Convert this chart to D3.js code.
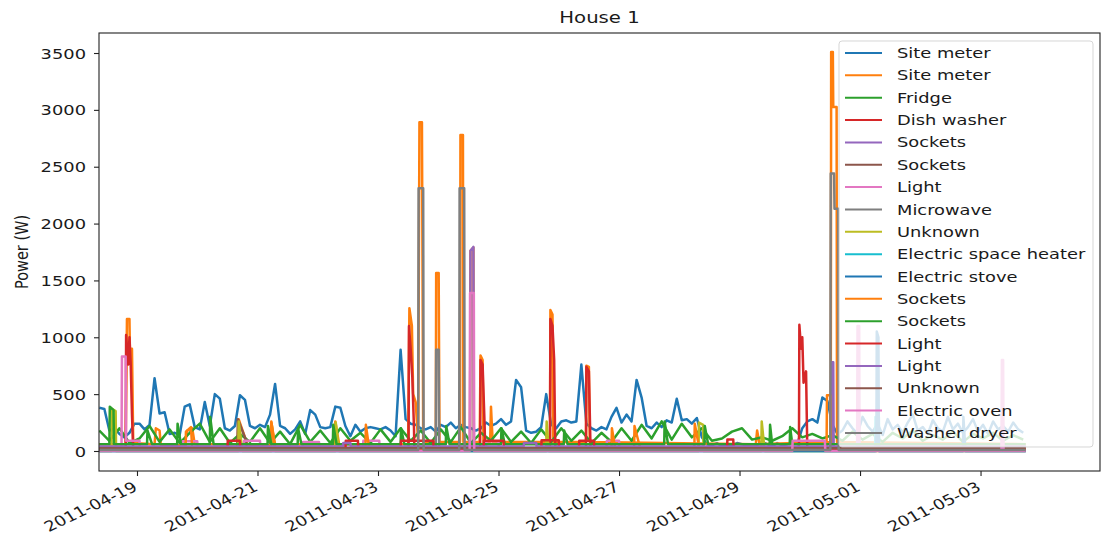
<!DOCTYPE html>
<html>
<head>
<meta charset="utf-8">
<script src="https://cdn.jsdelivr.net/npm/d3@7"></script>
<style>
  body { margin: 0; background: #fff; }
  text { font-family: "DejaVu Sans", sans-serif; fill: #1a1a1a; }
</style>
</head>
<body>
<div id="chart"></div>
<script>
// Figure size and plot box (the source image is stretched horizontally)
const width = 1102;
const height = 539;
const margin = { top: 33, right: 2, bottom: 68, left: 99 };
const fontSize = 14.5;
const sx = 1.23; // horizontal text stretch

// ---- data ----
const legendLabels = [
  "Site meter", "Site meter", "Fridge", "Dish washer", "Sockets", "Sockets",
  "Light", "Microwave", "Unknown", "Electric space heater", "Electric stove",
  "Sockets", "Sockets", "Light", "Light", "Unknown", "Electric oven", "Washer dryer"
];
const colors = [
  "#1f77b4", "#ff7f0e", "#2ca02c", "#d62728", "#9467bd", "#8c564b", "#e377c2",
  "#7f7f7f", "#bcbd22", "#17becf", "#1f77b4", "#ff7f0e", "#2ca02c", "#d62728",
  "#9467bd", "#8c564b", "#e377c2", "#7f7f7f"
];
const xTicks = ["04-19 00:00", "04-21 00:00", "04-23 00:00", "04-25 00:00",
  "04-27 00:00", "04-29 00:00", "05-01 00:00", "05-03 00:00"];
const yTicks = [0, 500, 1000, 1500, 2000, 2500, 3000, 3500];

// Site meter 1, one reading every 2 hours from 04-18 09:00
const siteMeter1Start = "04-18 09:00";
const siteMeter1Step = 2;
const siteMeter1 = [
  380, 370, 180, 200, 150, 120, 160, 240, 240, 190,
  230, 640, 330, 340, 150, 160, 140, 390, 410, 210,
  190, 430, 220, 500, 460, 200, 180, 220, 490, 450,
  220, 200, 230, 210, 320, 590, 220, 200, 150, 190,
  260, 150, 360, 320, 210, 200, 210, 390, 380, 220,
  130, 230, 170, 200, 210, 200, 190, 210, 180, 130,
  890, 280, 240, 230, 200, 190, 210, 170, 230, 210,
  250, 200, 230, 210, 200, 180, 200, 250, 220, 240,
  280, 230, 260, 625, 560, 180, 160, 170, 210, 500,
  230, 200, 260, 270, 250, 260, 760, 240, 200, 180,
  210, 190, 300, 380, 250, 320, 260, 625, 470, 220,
  200, 250, 210, 270, 250, 460, 270, 280, 240, 290,
  120, 60, 50, 70, 40, 60, 50, 70, 60, 40,
  60, 50, 80, 60, 40, 70, 50, 60, 80, 60,
  200, 260, 280, 250, 470, 440, 230, 150, 180, 260,
  200, 150, 300, 220, 170, 240, 140, 280, 190, 230,
  160, 250, 320, 180, 210, 150, 270, 200, 170, 300,
  190, 240, 160, 210, 280, 170, 230, 150, 260, 190,
  220, 170, 250, 190, 160
];

// Fridge, one reading every 4 hours from 04-18 09:00
const fridgeStart = "04-18 09:00";
const fridgeStep = 4;
const fridge = [
  180, 90, 200, 70, 110, 220, 80, 190, 70, 160,
  240, 80, 200, 70, 150, 80, 200, 70, 170, 60,
  230, 80, 180, 70, 200, 90, 160, 70, 190, 80,
  200, 90, 180, 70, 190, 80, 210, 70, 160, 90,
  200, 80, 170, 70, 190, 80, 200, 90, 180, 70,
  160, 80, 200, 90, 230, 110, 260, 100, 240, 120,
  200, 90, 110, 170, 200, 100, 120, 90, 130, 200,
  120, 150, 110, 140, 90, 170, 100, 150, 80, 160,
  110, 180, 90, 140, 100, 170, 80, 150, 110, 160,
  90, 140, 100
];

const siteMeter2 = [
  ["04-18 09:00", 60], ["04-18 19:30", 60], ["04-18 20:00", 1160], ["04-18 21:00", 1160],
  ["04-18 21:10", 900], ["04-18 22:00", 900], ["04-18 22:30", 70],
  ["04-19 07:00", 60], ["04-19 07:30", 200], ["04-19 09:00", 180], ["04-19 09:30", 50],
  ["04-19 19:00", 50], ["04-19 20:00", 180], ["04-19 22:00", 200], ["04-19 23:00", 60],
  ["04-20 16:00", 60], ["04-20 16:30", 280], ["04-20 19:00", 120], ["04-20 20:00", 50],
  ["04-21 05:00", 50], ["04-21 05:30", 250], ["04-21 07:00", 60],
  ["04-22 06:30", 60], ["04-22 07:00", 260], ["04-22 08:30", 60],
  ["04-23 12:00", 60], ["04-23 12:30", 1255], ["04-23 13:30", 1100], ["04-23 14:00", 500],
  ["04-23 15:00", 430], ["04-23 16:00", 80], ["04-23 16:30", 2890], ["04-23 17:30", 2890],
  ["04-23 18:00", 80], ["04-23 23:00", 80], ["04-23 23:10", 1565], ["04-24 00:10", 1565],
  ["04-24 00:30", 80], ["04-24 08:40", 80], ["04-24 08:50", 2780], ["04-24 09:50", 2780],
  ["04-24 10:00", 80], ["04-24 12:40", 80], ["04-24 12:50", 1760], ["04-24 14:00", 1790],
  ["04-24 14:10", 80], ["04-24 16:30", 80], ["04-24 16:50", 840], ["04-24 17:40", 800],
  ["04-24 18:00", 80], ["04-24 20:40", 80], ["04-24 21:00", 390], ["04-24 21:40", 80],
  ["04-25 20:30", 80], ["04-25 20:40", 1240], ["04-25 21:30", 1200], ["04-25 21:50", 80],
  ["04-26 10:50", 80], ["04-26 11:00", 750], ["04-26 12:00", 740], ["04-26 12:20", 80],
  ["04-29 06:30", 60], ["04-29 07:00", 180], ["04-29 08:00", 60],
  ["04-30 12:20", 80], ["04-30 12:30", 3510], ["04-30 13:10", 3510], ["04-30 13:20", 3025],
  ["04-30 14:40", 3025], ["04-30 14:50", 80], ["05-03 18:00", 60]
];
const dishWasher = [
  ["04-18 09:00", 5], ["04-18 19:30", 5], ["04-18 19:40", 1020], ["04-18 20:30", 760],
  ["04-18 21:00", 1000], ["04-18 21:30", 760], ["04-18 22:00", 320], ["04-18 22:30", 5],
  ["04-23 12:10", 5], ["04-23 12:20", 1100], ["04-23 13:00", 900], ["04-23 13:40", 650],
  ["04-23 14:20", 200], ["04-23 14:30", 5],
  ["04-24 16:40", 5], ["04-24 16:50", 800], ["04-24 17:40", 760], ["04-24 18:30", 200], ["04-24 18:40", 5],
  ["04-25 20:30", 5], ["04-25 20:40", 1160], ["04-25 21:30", 1100], ["04-25 22:10", 800],
  ["04-25 22:30", 200], ["04-25 22:40", 5],
  ["04-26 10:50", 5], ["04-26 11:00", 740], ["04-26 12:00", 700], ["04-26 12:40", 5],
  ["04-29 23:40", 5], ["04-29 23:50", 1110], ["04-30 00:30", 900], ["04-30 01:00", 1000],
  ["04-30 01:30", 600], ["04-30 02:30", 700], ["04-30 03:00", 5], ["05-03 18:00", 5]
];
const sockets1 = [
  ["04-18 09:00", 30], ["04-19 12:00", 30], ["04-19 12:10", 60], ["04-19 14:00", 60], ["04-19 14:10", 30],
  ["04-24 12:40", 30], ["04-24 12:50", 1760], ["04-24 14:00", 1795], ["04-24 14:10", 30],
  ["04-30 12:40", 30], ["04-30 12:50", 780], ["04-30 13:20", 780], ["04-30 13:30", 30],
  ["05-03 18:00", 30]
];
const sockets2 = [
  ["04-18 09:00", 20], ["04-20 16:00", 20], ["04-20 16:10", 280], ["04-20 19:30", 90],
  ["04-20 19:40", 20], ["05-03 18:00", 20]
];
const light1 = [
  ["04-18 09:00", 10], ["04-18 17:50", 10], ["04-18 18:00", 830], ["04-18 19:30", 830],
  ["04-18 19:40", 90], ["04-19 01:00", 90], ["04-19 01:10", 10],
  ["04-19 18:00", 10], ["04-19 18:10", 85], ["04-20 00:00", 85], ["04-20 00:10", 10],
  ["04-20 18:30", 10], ["04-20 18:40", 90], ["04-21 01:00", 90], ["04-21 01:10", 10],
  ["04-21 18:00", 10], ["04-21 18:10", 80], ["04-22 00:30", 80], ["04-22 00:40", 10],
  ["04-22 18:00", 10], ["04-22 18:10", 90], ["04-23 00:30", 90], ["04-23 00:40", 10],
  ["04-24 19:00", 10], ["04-24 19:10", 85], ["04-25 00:00", 85], ["04-25 00:10", 10],
  ["04-26 19:00", 10], ["04-26 19:10", 90], ["04-27 00:00", 90], ["04-27 00:10", 10],
  ["04-30 22:50", 10], ["04-30 23:00", 1100], ["04-30 23:40", 1100], ["04-30 23:50", 10],
  ["05-03 18:00", 10]
];
const microwave = [
  ["04-18 09:00", 5], ["04-23 23:00", 5], ["04-23 23:10", 890], ["04-24 00:10", 890],
  ["04-24 00:20", 5], ["05-03 18:00", 5]
];
const unknown1 = [
  ["04-18 09:00", 0], ["04-18 13:50", 0], ["04-18 14:00", 370], ["04-18 15:30", 350], ["04-18 15:40", 0],
  ["04-20 16:20", 0], ["04-20 16:30", 260], ["04-20 18:00", 0],
  ["04-21 05:30", 0], ["04-21 05:40", 230], ["04-21 07:00", 0],
  ["04-22 07:00", 0], ["04-22 07:10", 250], ["04-22 08:30", 0],
  ["04-25 19:00", 0], ["04-25 19:10", 260], ["04-25 20:00", 0],
  ["04-28 07:40", 0], ["04-28 07:50", 250], ["04-28 09:30", 230], ["04-28 09:40", 0],
  ["04-29 08:40", 0], ["04-29 08:50", 260], ["04-29 10:00", 0], ["05-03 18:00", 0]
];
const spaceHeater = [
  ["04-18 09:00", 0], ["05-01 06:00", 0], ["05-01 06:10", 300], ["05-01 07:30", 300],
  ["05-01 07:40", 0], ["05-03 18:00", 0]
];
const stove = [
  ["04-18 09:00", 0], ["05-01 06:30", 0], ["05-01 06:40", 1050], ["05-01 07:20", 1000],
  ["05-01 07:30", 0], ["05-02 17:00", 0], ["05-02 17:10", 300], ["05-02 18:00", 0], ["05-03 18:00", 0]
];
const sockets3 = [
  ["04-18 09:00", 20], ["04-19 19:20", 20], ["04-19 19:30", 170], ["04-19 21:30", 210], ["04-19 22:00", 20],
  ["04-21 05:20", 20], ["04-21 05:30", 260], ["04-21 07:00", 20],
  ["04-22 19:00", 20], ["04-22 19:10", 230], ["04-22 20:30", 20],
  ["04-26 21:00", 20], ["04-26 21:10", 200], ["04-26 22:30", 20],
  ["04-27 06:00", 20], ["04-27 06:10", 220], ["04-27 08:30", 20],
  ["04-28 06:00", 20], ["04-28 06:10", 240], ["04-28 08:00", 20],
  ["04-30 10:40", 20], ["04-30 10:50", 490], ["04-30 12:10", 490], ["04-30 12:20", 20],
  ["05-03 18:00", 20]
];
const sockets4 = [
  ["04-18 09:00", 60], ["04-18 13:00", 60], ["04-18 13:10", 390], ["04-18 14:40", 360], ["04-18 14:50", 60],
  ["04-19 04:00", 60], ["04-19 04:10", 180], ["04-19 06:00", 60],
  ["04-19 16:00", 60], ["04-19 16:10", 240], ["04-19 17:30", 60],
  ["04-20 05:00", 60], ["04-20 05:10", 300], ["04-20 06:30", 60],
  ["04-21 04:00", 60], ["04-21 04:10", 220], ["04-21 05:30", 60],
  ["04-21 16:00", 60], ["04-21 16:10", 200], ["04-21 17:30", 60],
  ["04-22 06:00", 60], ["04-22 06:10", 230], ["04-22 07:30", 60],
  ["04-23 09:00", 60], ["04-23 09:10", 200], ["04-23 10:30", 60],
  ["04-24 03:00", 60], ["04-24 03:10", 220], ["04-24 04:30", 60],
  ["04-25 01:00", 60], ["04-25 01:10", 200], ["04-25 02:30", 60],
  ["04-26 02:00", 60], ["04-26 02:10", 180], ["04-26 03:30", 60],
  ["04-27 18:00", 60], ["04-27 18:10", 260], ["04-27 19:30", 60],
  ["04-28 10:00", 60], ["04-28 10:10", 220], ["04-28 11:30", 60],
  ["04-29 12:00", 60], ["04-29 12:10", 230], ["04-29 13:00", 60],
  ["04-29 20:00", 60], ["04-29 20:10", 210], ["04-29 21:00", 60],
  ["05-03 18:00", 60]
];
const light2 = [
  ["04-18 09:00", 10], ["04-20 12:00", 10], ["04-20 12:10", 90], ["04-20 17:00", 90], ["04-20 17:10", 10],
  ["04-22 11:00", 10], ["04-22 11:10", 90], ["04-22 16:00", 90], ["04-22 16:10", 10],
  ["04-23 09:00", 10], ["04-23 09:10", 90], ["04-23 22:00", 90], ["04-23 22:10", 10],
  ["04-24 18:00", 10], ["04-24 18:10", 90], ["04-25 02:00", 90], ["04-25 02:10", 10],
  ["04-25 17:00", 10], ["04-25 17:10", 95], ["04-26 00:00", 95], ["04-26 00:10", 10],
  ["04-26 08:00", 10], ["04-26 08:10", 90], ["04-26 14:00", 90], ["04-26 14:10", 10],
  ["04-28 19:00", 10], ["04-28 19:10", 100], ["04-28 21:30", 100], ["04-28 21:40", 10],
  ["05-03 18:00", 10]
];
const light3 = [
  ["04-18 09:00", 40], ["04-22 10:00", 40], ["04-22 10:10", 70], ["04-22 13:00", 70], ["04-22 13:10", 40],
  ["04-25 10:00", 40], ["04-25 10:10", 70], ["04-25 15:00", 70], ["04-25 15:10", 40], ["05-03 18:00", 40]
];
const unknown2 = [["04-18 09:00", 25], ["05-03 18:00", 25]];
const oven = [
  ["04-18 09:00", 0], ["04-24 12:30", 0], ["04-24 12:40", 1390], ["04-24 14:10", 1390], ["04-24 14:20", 0],
  ["04-29 21:00", 0], ["04-29 21:10", 90], ["04-30 10:00", 90], ["04-30 10:10", 0],
  ["05-03 08:20", 0], ["05-03 08:30", 800], ["05-03 09:00", 800], ["05-03 09:10", 0], ["05-03 18:00", 0]
];
const washerDryer = [
  ["04-18 09:00", 8], ["04-23 16:00", 8], ["04-23 16:10", 2310], ["04-23 18:00", 2310], ["04-23 18:10", 8],
  ["04-24 08:20", 8], ["04-24 08:30", 2310], ["04-24 10:20", 2310], ["04-24 10:30", 8],
  ["04-30 12:10", 8], ["04-30 12:20", 2440], ["04-30 13:40", 2440], ["04-30 13:50", 2130],
  ["04-30 15:20", 2130], ["04-30 15:30", 8], ["05-03 18:00", 8]
];

// ---- build ----
const parse = d3.timeParse("%Y-%m-%d %H:%M");
const t = s => parse("2011-" + s);
const regular = (start, step, vals) => vals.map((v, i) => [d3.timeHour.offset(t(start), i * step), v]);
const pairs = arr => arr.map(d => [t(d[0]), d[1]]);

const series = [
  regular(siteMeter1Start, siteMeter1Step, siteMeter1),
  pairs(siteMeter2),
  regular(fridgeStart, fridgeStep, fridge),
  pairs(dishWasher), pairs(sockets1), pairs(sockets2), pairs(light1), pairs(microwave),
  pairs(unknown1), pairs(spaceHeater), pairs(stove), pairs(sockets3), pairs(sockets4),
  pairs(light2), pairs(light3), pairs(unknown2), pairs(oven), pairs(washerDryer)
];

const svg = d3.select("#chart")
  .append("svg")
  .attr("width", width)
  .attr("height", height);

const plotW = width - margin.left - margin.right;
const plotH = height - margin.top - margin.bottom;

const xScale = d3.scaleTime()
  .domain([t("04-18 08:52"), t("05-04 23:35")])
  .range([margin.left, margin.left + plotW]);

const yScale = d3.scaleLinear()
  .domain([-176, 3676])
  .range([margin.top + plotH, margin.top]);

svg.append("defs").append("clipPath").attr("id", "clip")
  .append("rect")
  .attr("x", margin.left).attr("y", margin.top)
  .attr("width", plotW).attr("height", plotH);

const line = d3.line()
  .x(d => xScale(d[0]))
  .y(d => yScale(d[1]));

const lines = svg.append("g").attr("clip-path", "url(#clip)");
series.forEach((s, i) => {
  lines.append("path")
    .datum(s)
    .attr("fill", "none")
    .attr("stroke", colors[i])
    .attr("stroke-width", 2.5)
    .attr("stroke-linejoin", "round")
    .attr("d", line);
});

// Axes
const xAxis = d3.axisBottom(xScale)
  .tickValues(xTicks.map(t))
  .tickFormat(d3.timeFormat("%Y-%m-%d"))
  .tickSize(5)
  .tickSizeOuter(0);

const gx = svg.append("g")
  .attr("transform", `translate(0, ${margin.top + plotH})`)
  .call(xAxis);
gx.select(".domain").remove();
gx.selectAll(".tick line").attr("stroke", "#222").attr("stroke-width", 1.1);
gx.selectAll("text")
  .attr("y", null).attr("dy", null)
  .attr("text-anchor", "end")
  .style("font-size", fontSize + "px")
  .attr("transform", `translate(1, 19) scale(${sx}, 1) rotate(-30)`);

const yAxis = d3.axisLeft(yScale)
  .tickValues(yTicks)
  .tickFormat(d3.format("d"))
  .tickSize(5)
  .tickSizeOuter(0);

const gy = svg.append("g")
  .attr("transform", `translate(${margin.left}, 0)`)
  .call(yAxis);
gy.select(".domain").remove();
gy.selectAll(".tick line").attr("stroke", "#222").attr("stroke-width", 1.1);
gy.selectAll("text")
  .attr("x", null)
  .attr("dy", "0.35em")
  .style("font-size", fontSize + "px")
  .attr("transform", `translate(-13, 0) scale(${sx}, 1)`);

// Frame
svg.append("rect")
  .attr("x", margin.left).attr("y", margin.top)
  .attr("width", plotW).attr("height", plotH)
  .attr("fill", "none")
  .attr("stroke", "#222")
  .attr("stroke-width", 1.1);

// Title and y label
svg.append("text")
  .attr("text-anchor", "middle")
  .style("font-size", "16px")
  .attr("transform", `translate(${margin.left + plotW / 2}, 23) scale(${sx}, 1)`)
  .text("House 1");

svg.append("text")
  .attr("text-anchor", "middle")
  .style("font-size", fontSize + "px")
  .attr("transform", `translate(28, ${margin.top + plotH / 2}) scale(${sx}, 1) rotate(-90)`)
  .text("Power (W)");

// Legend
const legend = svg.append("g");
const legX = 839, legY = 41, rowH = 22.35;
legend.append("rect")
  .attr("x", legX).attr("y", legY)
  .attr("width", 254).attr("height", 406)
  .attr("rx", 3)
  .attr("fill", "#fff").attr("fill-opacity", 0.8)
  .attr("stroke", "#ccc").attr("stroke-opacity", 0.8);

legendLabels.forEach((label, i) => {
  const yy = legY + 12 + i * rowH;
  legend.append("line")
    .attr("x1", legX + 6).attr("x2", legX + 43)
    .attr("y1", yy).attr("y2", yy)
    .attr("stroke", colors[i]).attr("stroke-width", 2);
  legend.append("text")
    .attr("dy", "0.35em")
    .style("font-size", fontSize + "px")
    .attr("transform", `translate(${legX + 58}, ${yy}) scale(${sx}, 1)`)
    .text(label);
});
</script>
</body>
</html>
